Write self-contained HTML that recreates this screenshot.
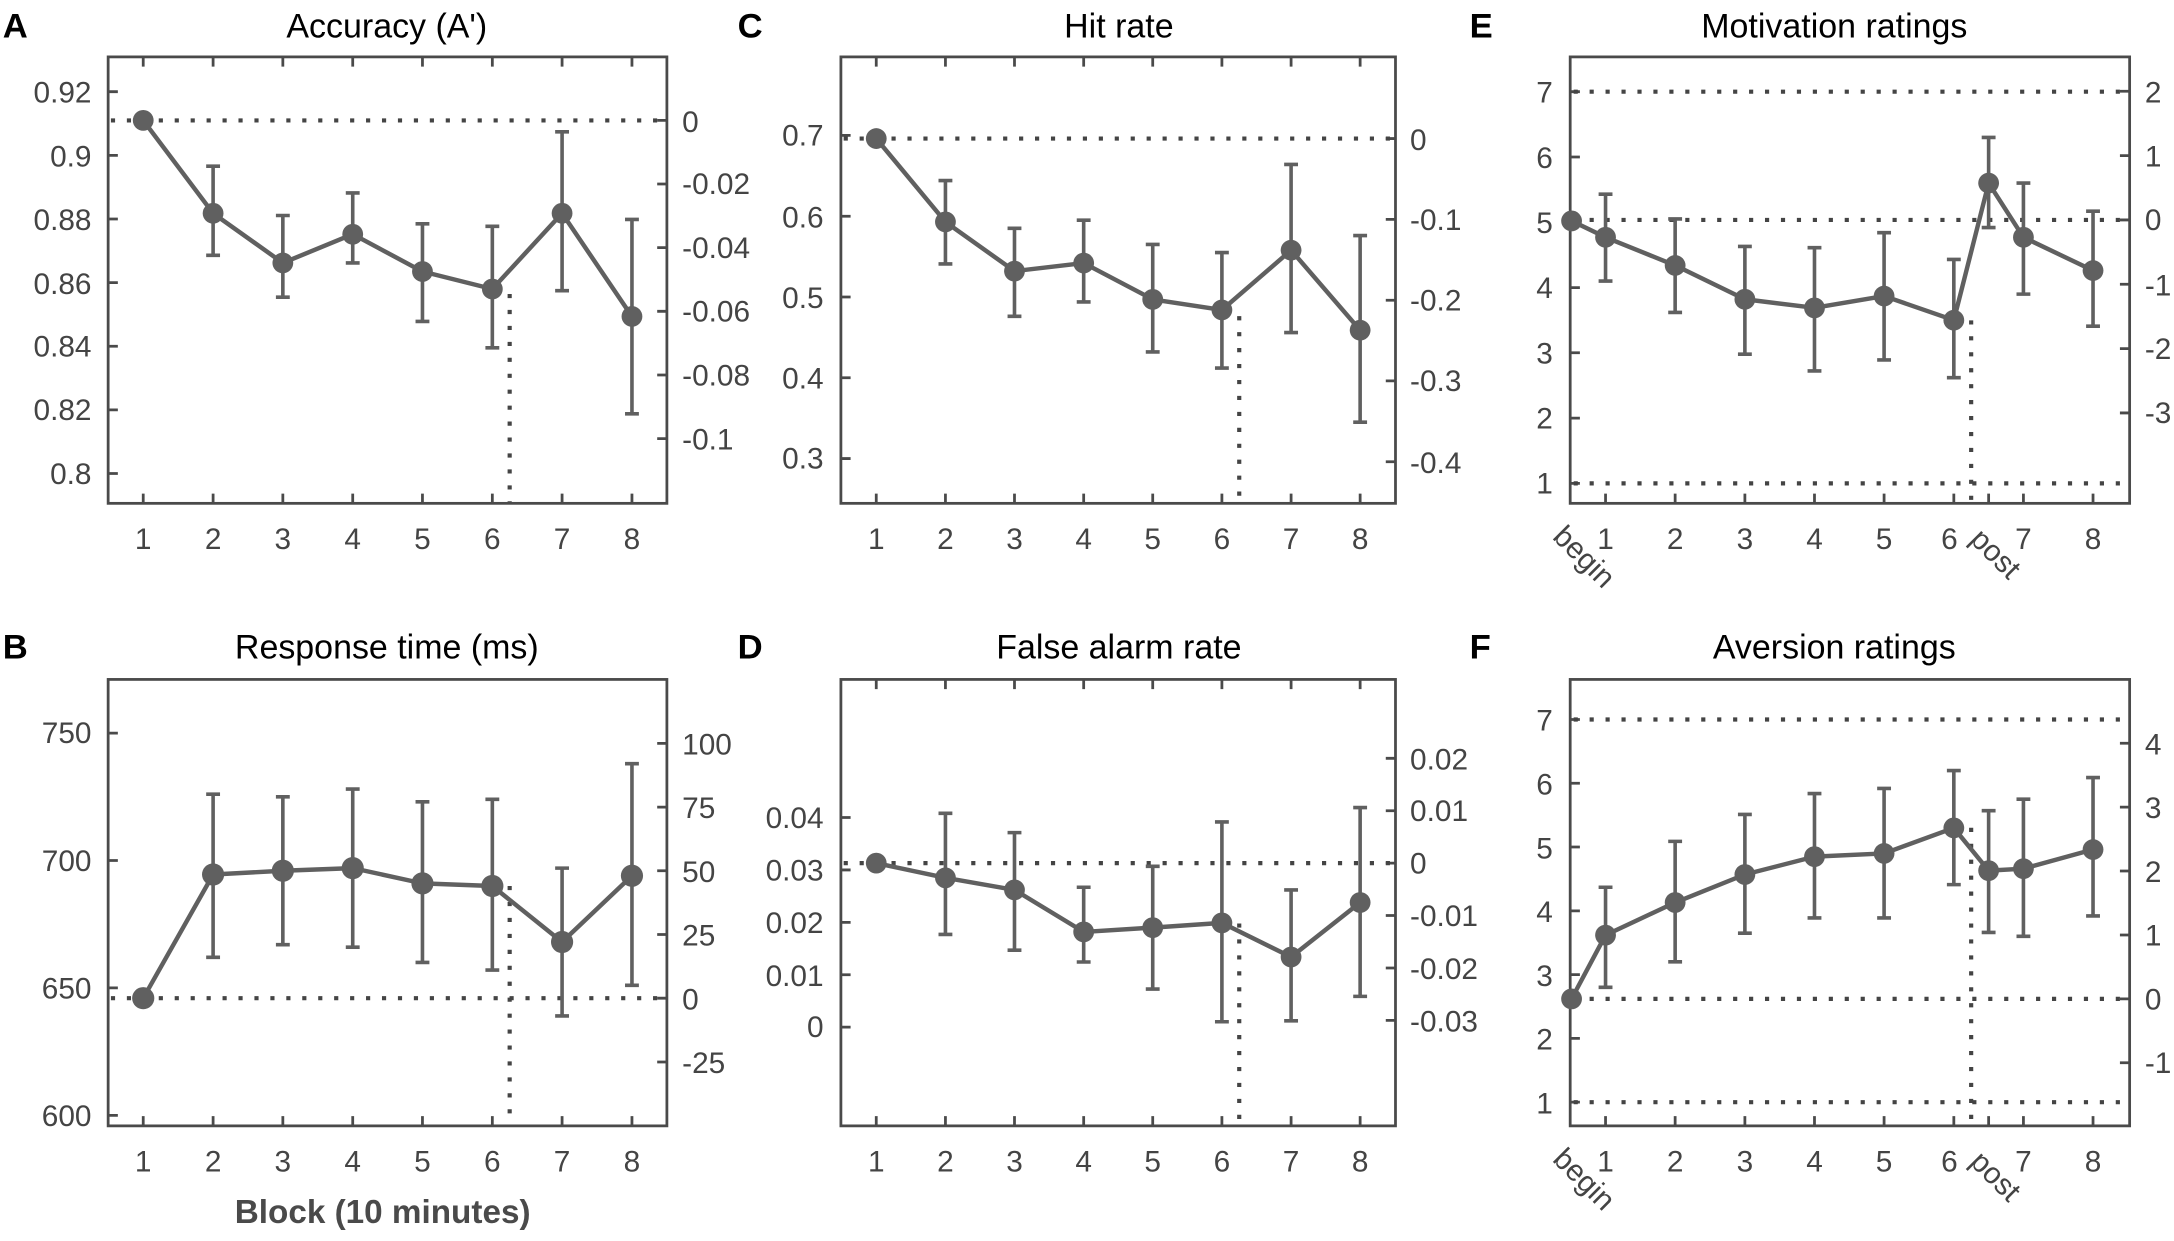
<!DOCTYPE html>
<html><head><meta charset="utf-8"><style>
html,body{margin:0;padding:0;background:#fff}
svg{display:block}
text{font-family:"Liberation Sans",Arial,sans-serif;fill:#444}
.t{font-size:21.5px}
.ti{font-size:24.5px;fill:#000}
.L{font-size:25px;font-weight:bold;fill:#000}
.box{fill:none;stroke:#4a4a4a;stroke-width:2}
.tk{stroke:#4a4a4a;stroke-width:2;fill:none}
.dot{stroke:#444;stroke-width:3;stroke-dasharray:3 8.5;fill:none}
.ln{fill:none;stroke:#606060;stroke-width:3.2;stroke-linejoin:round}
.eb{fill:none;stroke:#606060;stroke-width:2.6}
.mk{fill:#606060}
</style></head><body>
<svg width="2174" height="1241" viewBox="0 0 1568 895" xmlns="http://www.w3.org/2000/svg">

<!-- ============ A ============ -->
<text class="L" x="2" y="27">A</text>
<text class="ti" x="279" y="27" text-anchor="middle">Accuracy (A')</text>
<rect class="box" x="78" y="41" width="403" height="322"/>
<path class="tk" d="M78 66.1h7M78 112h7M78 157.9h7M78 203.8h7M78 249.7h7M78 295.6h7M78 341.5h7
M481 86.8h-7M481 132.7h-7M481 178.6h-7M481 224.5h-7M481 270.4h-7M481 316.3h-7
M103.3 363v-7M153.7 363v-7M204 363v-7M254.4 363v-7M304.7 363v-7M355.1 363v-7M405.4 363v-7M455.8 363v-7
M103.3 41v7M153.7 41v7M204 41v7M254.4 41v7M304.7 41v7M355.1 41v7M405.4 41v7M455.8 41v7"/>
<g class="t" text-anchor="end">
<text x="66" y="74">0.92</text><text x="66" y="120">0.9</text><text x="66" y="166">0.88</text><text x="66" y="212">0.86</text><text x="66" y="257">0.84</text><text x="66" y="303">0.82</text><text x="66" y="349">0.8</text></g>
<g class="t"><text x="492" y="95">0</text><text x="492" y="140">-0.02</text><text x="492" y="186">-0.04</text><text x="492" y="232">-0.06</text><text x="492" y="278">-0.08</text><text x="492" y="324">-0.1</text></g>
<g class="t" text-anchor="middle"><text x="103.3" y="396">1</text><text x="153.7" y="396">2</text><text x="204" y="396">3</text><text x="254.4" y="396">4</text><text x="304.7" y="396">5</text><text x="355.1" y="396">6</text><text x="405.4" y="396">7</text><text x="455.8" y="396">8</text></g>
<path class="dot" d="M80 86.8H480M367.6 212V362"/>
<path class="eb" d="M153.7 119.8V184.1M148.7 119.8h10M148.7 184.1h10
M204 155.4V214.3M199 155.4h10M199 214.3h10
M254.4 139.1V189.6M249.4 139.1h10M249.4 189.6h10
M304.7 161.4V231.8M299.7 161.4h10M299.7 231.8h10
M355.1 163.2V250.8M350.1 163.2h10M350.1 250.8h10
M405.4 95V209.6M400.4 95h10M400.4 209.6h10
M455.8 158.2V298.4M450.8 158.2h10M450.8 298.4h10"/>
<polyline class="ln" points="103.3,86.8 153.7,153.8 204,189.6 254.4,168.9 304.7,195.8 355.1,208.4 405.4,153.8 455.8,228.2"/>
<g class="mk"><circle cx="103.3" cy="86.8" r="7.5"/><circle cx="153.7" cy="153.8" r="7.5"/><circle cx="204" cy="189.6" r="7.5"/><circle cx="254.4" cy="168.9" r="7.5"/><circle cx="304.7" cy="195.8" r="7.5"/><circle cx="355.1" cy="208.4" r="7.5"/><circle cx="405.4" cy="153.8" r="7.5"/><circle cx="455.8" cy="228.2" r="7.5"/></g>

<!-- ============ B ============ -->
<text class="L" x="2" y="475">B</text>
<text class="ti" x="279" y="475" text-anchor="middle">Response time (ms)</text>
<rect class="box" x="78" y="490" width="403" height="322"/>
<path class="tk" d="M78 528.7h7M78 620.6h7M78 712.5h7M78 804.4h7
M481 536.1h-7M481 582.1h-7M481 628h-7M481 674h-7M481 719.9h-7M481 765.9h-7
M103.3 812v-7M153.7 812v-7M204 812v-7M254.4 812v-7M304.7 812v-7M355.1 812v-7M405.4 812v-7M455.8 812v-7"/>
<g class="t" text-anchor="end"><text x="66" y="536">750</text><text x="66" y="628">700</text><text x="66" y="720">650</text><text x="66" y="812">600</text></g>
<g class="t"><text x="492" y="544">100</text><text x="492" y="590">75</text><text x="492" y="636">50</text><text x="492" y="682">25</text><text x="492" y="728">0</text><text x="492" y="774">-25</text></g>
<g class="t" text-anchor="middle"><text x="103.3" y="845">1</text><text x="153.7" y="845">2</text><text x="204" y="845">3</text><text x="254.4" y="845">4</text><text x="304.7" y="845">5</text><text x="355.1" y="845">6</text><text x="405.4" y="845">7</text><text x="455.8" y="845">8</text></g>
<text x="276" y="882" text-anchor="middle" style="font-size:24px;font-weight:bold;fill:#4a4a4a">Block (10 minutes)</text>
<path class="dot" d="M80 719.9H480M367.6 639V811"/>
<path class="eb" d="M153.7 572.8V690.4M148.7 572.8h10M148.7 690.4h10
M204 574.7V681.3M199 574.7h10M199 681.3h10
M254.4 569.1V683.1M249.4 569.1h10M249.4 683.1h10
M304.7 578.3V694.1M299.7 578.3h10M299.7 694.1h10
M355.1 576.5V699.6M350.1 576.5h10M350.1 699.6h10
M405.4 626.1V732.7M400.4 626.1h10M400.4 732.7h10
M455.8 550.8V710.6M450.8 550.8h10M450.8 710.6h10"/>
<polyline class="ln" points="103.3,719.9 153.7,630.7 204,628 254.4,626.1 304.7,637.1 355.1,639 405.4,679.4 455.8,631.6"/>
<g class="mk"><circle cx="103.3" cy="719.9" r="8"/><circle cx="153.7" cy="630.7" r="8"/><circle cx="204" cy="628" r="8"/><circle cx="254.4" cy="626.1" r="8"/><circle cx="304.7" cy="637.1" r="8"/><circle cx="355.1" cy="639" r="8"/><circle cx="405.4" cy="679.4" r="8"/><circle cx="455.8" cy="631.6" r="8"/></g>

<!-- ============ C ============ -->
<text class="L" x="532" y="27">C</text>
<text class="ti" x="807" y="27" text-anchor="middle">Hit rate</text>
<rect class="box" x="606.5" y="41" width="400" height="322"/>
<path class="tk" d="M606.5 97.6h7M606.5 155.9h7M606.5 214.2h7M606.5 272.4h7M606.5 330.7h7
M1006.5 99.9h-7M1006.5 158.2h-7M1006.5 216.5h-7M1006.5 274.7h-7M1006.5 333h-7
M632 363v-7M681.9 363v-7M731.7 363v-7M781.6 363v-7M831.4 363v-7M881.3 363v-7M931.2 363v-7M981 363v-7
M632 41v7M681.9 41v7M731.7 41v7M781.6 41v7M831.4 41v7M881.3 41v7M931.2 41v7M981 41v7"/>
<g class="t" text-anchor="end"><text x="594" y="105">0.7</text><text x="594" y="164">0.6</text><text x="594" y="222">0.5</text><text x="594" y="280">0.4</text><text x="594" y="338">0.3</text></g>
<g class="t"><text x="1017" y="108">0</text><text x="1017" y="166">-0.1</text><text x="1017" y="224">-0.2</text><text x="1017" y="282">-0.3</text><text x="1017" y="341">-0.4</text></g>
<g class="t" text-anchor="middle"><text x="632" y="396">1</text><text x="681.9" y="396">2</text><text x="731.7" y="396">3</text><text x="781.6" y="396">4</text><text x="831.4" y="396">5</text><text x="881.3" y="396">6</text><text x="931.2" y="396">7</text><text x="981" y="396">8</text></g>
<path class="dot" d="M608.5 99.9H1005.5M893.8 228V362"/>
<path class="eb" d="M681.9 130.2V190.3M676.9 130.2h10M676.9 190.3h10
M731.7 164.6V228.1M726.7 164.6h10M726.7 228.1h10
M781.6 158.8V217.7M776.6 158.8h10M776.6 217.7h10
M831.4 176.3V253.8M826.4 176.3h10M826.4 253.8h10
M881.3 182.1V265.4M876.3 182.1h10M876.3 265.4h10
M931.2 118.6V239.8M926.2 118.6h10M926.2 239.8h10
M981 169.9V304.5M976 169.9h10M976 304.5h10"/>
<polyline class="ln" points="632,99.9 681.9,160 731.7,195.5 781.6,189.7 831.4,215.9 881.3,223.5 931.2,180.4 981,238.1"/>
<g class="mk"><circle cx="632" cy="99.9" r="7.5"/><circle cx="681.9" cy="160" r="7.5"/><circle cx="731.7" cy="195.5" r="7.5"/><circle cx="781.6" cy="189.7" r="7.5"/><circle cx="831.4" cy="215.9" r="7.5"/><circle cx="881.3" cy="223.5" r="7.5"/><circle cx="931.2" cy="180.4" r="7.5"/><circle cx="981" cy="238.1" r="7.5"/></g>

<!-- ============ D ============ -->
<text class="L" x="532" y="475">D</text>
<text class="ti" x="807" y="475" text-anchor="middle">False alarm rate</text>
<rect class="box" x="606.5" y="490" width="400" height="322"/>
<path class="tk" d="M606.5 589.6h7M606.5 627.4h7M606.5 665.2h7M606.5 703h7M606.5 740.8h7
M1006.5 546.9h-7M1006.5 584.7h-7M1006.5 622.5h-7M1006.5 660.3h-7M1006.5 698.1h-7M1006.5 735.9h-7
M632 812v-7M681.9 812v-7M731.7 812v-7M781.6 812v-7M831.4 812v-7M881.3 812v-7M931.2 812v-7M981 812v-7
M632 490v7M681.9 490v7M731.7 490v7M781.6 490v7M831.4 490v7M881.3 490v7M931.2 490v7M981 490v7"/>
<g class="t" text-anchor="end"><text x="594" y="597">0.04</text><text x="594" y="635">0.03</text><text x="594" y="673">0.02</text><text x="594" y="711">0.01</text><text x="594" y="748">0</text></g>
<g class="t"><text x="1017" y="555">0.02</text><text x="1017" y="592">0.01</text><text x="1017" y="630">0</text><text x="1017" y="668">-0.01</text><text x="1017" y="706">-0.02</text><text x="1017" y="744">-0.03</text></g>
<g class="t" text-anchor="middle"><text x="632" y="845">1</text><text x="681.9" y="845">2</text><text x="731.7" y="845">3</text><text x="781.6" y="845">4</text><text x="831.4" y="845">5</text><text x="881.3" y="845">6</text><text x="931.2" y="845">7</text><text x="981" y="845">8</text></g>
<path class="dot" d="M608.5 622.5H1005.5M893.8 666V811"/>
<path class="eb" d="M681.9 586.6V673.9M676.9 586.6h10M676.9 673.9h10
M731.7 600.5V685.3M726.7 600.5h10M726.7 685.3h10
M781.6 639.9V693.8M776.6 639.9h10M776.6 693.8h10
M831.4 624.8V713.3M826.4 624.8h10M826.4 713.3h10
M881.3 592.8V736.9M876.3 592.8h10M876.3 736.9h10
M931.2 641.8V736.2M926.2 641.8h10M926.2 736.2h10
M981 582.4V718.6M976 582.4h10M976 718.6h10"/>
<polyline class="ln" points="632,622.5 681.9,633.1 731.7,641.8 781.6,672.1 831.4,669 881.3,665.6 931.2,690.2 981,650.9"/>
<g class="mk"><circle cx="632" cy="622.5" r="7.5"/><circle cx="681.9" cy="633.1" r="7.5"/><circle cx="731.7" cy="641.8" r="7.5"/><circle cx="781.6" cy="672.1" r="7.5"/><circle cx="831.4" cy="669" r="7.5"/><circle cx="881.3" cy="665.6" r="7.5"/><circle cx="931.2" cy="690.2" r="7.5"/><circle cx="981" cy="650.9" r="7.5"/></g>

<!-- ============ E ============ -->
<text class="L" x="1060" y="27">E</text>
<text class="ti" x="1323" y="27" text-anchor="middle">Motivation ratings</text>
<rect class="box" x="1132.5" y="41" width="403.5" height="322"/>
<path class="tk" d="M1132.5 66.1h7M1132.5 113.2h7M1132.5 160.3h7M1132.5 207.4h7M1132.5 254.4h7M1132.5 301.5h7M1132.5 348.6h7
M1536 65.8h-7M1536 112.2h-7M1536 158.6h-7M1536 205h-7M1536 251.4h-7M1536 297.8h-7
M1158 363v-7M1208.2 363v-7M1258.5 363v-7M1308.7 363v-7M1358.9 363v-7M1409.2 363v-7M1434.3 363v-7M1459.4 363v-7M1509.6 363v-7"/>
<g class="t" text-anchor="end"><text x="1120" y="74">7</text><text x="1120" y="121">6</text><text x="1120" y="168">5</text><text x="1120" y="215">4</text><text x="1120" y="262">3</text><text x="1120" y="309">2</text><text x="1120" y="356">1</text></g>
<g class="t"><text x="1547" y="74">2</text><text x="1547" y="120">1</text><text x="1547" y="166">0</text><text x="1547" y="213">-1</text><text x="1547" y="259">-2</text><text x="1547" y="305">-3</text></g>
<g class="t" text-anchor="middle"><text x="1158" y="396">1</text><text x="1208.2" y="396">2</text><text x="1258.5" y="396">3</text><text x="1308.7" y="396">4</text><text x="1358.9" y="396">5</text><text x="1406" y="396">6</text><text x="1459.4" y="396">7</text><text x="1509.6" y="396">8</text></g>
<text class="t" transform="translate(1119,388) rotate(45)">begin</text>
<text class="t" transform="translate(1420,390) rotate(45)">post</text>
<path class="dot" d="M1135 66.1H1534M1135 158.6H1534M1135 348.6H1534M1421.7 231V362"/>
<path class="eb" d="M1158 140V202.7M1153 140h10M1153 202.7h10
M1208.2 157.9V225.3M1203.2 157.9h10M1203.2 225.3h10
M1258.5 177.7V255.4M1253.5 177.7h10M1253.5 255.4h10
M1308.7 178.6V267.5M1303.7 178.6h10M1303.7 267.5h10
M1358.9 167.8V259.6M1353.9 167.8h10M1353.9 259.6h10
M1409.2 187.1V272.4M1404.2 187.1h10M1404.2 272.4h10
M1434.3 99.1V164.1M1429.3 99.1h10M1429.3 164.1h10
M1459.4 132V212.1M1454.4 132h10M1454.4 212.1h10
M1509.6 152.3V235.2M1504.6 152.3h10M1504.6 235.2h10"/>
<polyline class="ln" points="1133.5,159.3 1158,171.1 1208.2,191.4 1258.5,215.8 1308.7,222 1358.9,213.5 1409.2,230.9 1434.3,132 1459.4,171.1 1509.6,195.1"/>
<g class="mk"><circle cx="1133.5" cy="159.3" r="7.5"/><circle cx="1158" cy="171.1" r="7.5"/><circle cx="1208.2" cy="191.4" r="7.5"/><circle cx="1258.5" cy="215.8" r="7.5"/><circle cx="1308.7" cy="222" r="7.5"/><circle cx="1358.9" cy="213.5" r="7.5"/><circle cx="1409.2" cy="230.9" r="7.5"/><circle cx="1434.3" cy="132" r="7.5"/><circle cx="1459.4" cy="171.1" r="7.5"/><circle cx="1509.6" cy="195.1" r="7.5"/></g>

<!-- ============ F ============ -->
<text class="L" x="1060" y="475">F</text>
<text class="ti" x="1323" y="475" text-anchor="middle">Aversion ratings</text>
<rect class="box" x="1132.5" y="490" width="403.5" height="322"/>
<path class="tk" d="M1132.5 518.9h7M1132.5 564.9h7M1132.5 610.9h7M1132.5 656.9h7M1132.5 702.9h7M1132.5 748.9h7M1132.5 794.9h7
M1536 536h-7M1536 582.1h-7M1536 628.2h-7M1536 674.3h-7M1536 720.4h-7M1536 766.5h-7
M1158 812v-7M1208.2 812v-7M1258.5 812v-7M1308.7 812v-7M1358.9 812v-7M1409.2 812v-7M1434.3 812v-7M1459.4 812v-7M1509.6 812v-7"/>
<g class="t" text-anchor="end"><text x="1120" y="527">7</text><text x="1120" y="573">6</text><text x="1120" y="619">5</text><text x="1120" y="665">4</text><text x="1120" y="711">3</text><text x="1120" y="757">2</text><text x="1120" y="803">1</text></g>
<g class="t"><text x="1547" y="544">4</text><text x="1547" y="590">3</text><text x="1547" y="636">2</text><text x="1547" y="682">1</text><text x="1547" y="728">0</text><text x="1547" y="774">-1</text></g>
<g class="t" text-anchor="middle"><text x="1158" y="845">1</text><text x="1208.2" y="845">2</text><text x="1258.5" y="845">3</text><text x="1308.7" y="845">4</text><text x="1358.9" y="845">5</text><text x="1406" y="845">6</text><text x="1459.4" y="845">7</text><text x="1509.6" y="845">8</text></g>
<text class="t" transform="translate(1119,837) rotate(45)">begin</text>
<text class="t" transform="translate(1420,839) rotate(45)">post</text>
<path class="dot" d="M1135 518.9H1534M1135 720.4H1534M1135 794.9H1534M1421.7 597V811"/>
<path class="eb" d="M1158 639.9V712.1M1153 639.9h10M1153 712.1h10
M1208.2 606.8V693.7M1203.2 606.8h10M1203.2 693.7h10
M1258.5 587.4V673M1253.5 587.4h10M1253.5 673h10
M1308.7 572.3V662M1303.7 572.3h10M1303.7 662h10
M1358.9 568.6V662M1353.9 568.6h10M1353.9 662h10
M1409.2 555.7V638M1404.2 555.7h10M1404.2 638h10
M1434.3 584.7V672.5M1429.3 584.7h10M1429.3 672.5h10
M1459.4 576.4V675.3M1454.4 576.4h10M1454.4 675.3h10
M1509.6 560.8V660.6M1504.6 560.8h10M1504.6 660.6h10"/>
<polyline class="ln" points="1133.5,720.4 1158,674.4 1208.2,650.9 1258.5,630.7 1308.7,617.8 1358.9,615.5 1409.2,597.1 1434.3,627.9 1459.4,626.5 1509.6,612.7"/>
<g class="mk"><circle cx="1133.5" cy="720.4" r="7.5"/><circle cx="1158" cy="674.4" r="7.5"/><circle cx="1208.2" cy="650.9" r="7.5"/><circle cx="1258.5" cy="630.7" r="7.5"/><circle cx="1308.7" cy="617.8" r="7.5"/><circle cx="1358.9" cy="615.5" r="7.5"/><circle cx="1409.2" cy="597.1" r="7.5"/><circle cx="1434.3" cy="627.9" r="7.5"/><circle cx="1459.4" cy="626.5" r="7.5"/><circle cx="1509.6" cy="612.7" r="7.5"/></g>
</svg>
</body></html>
